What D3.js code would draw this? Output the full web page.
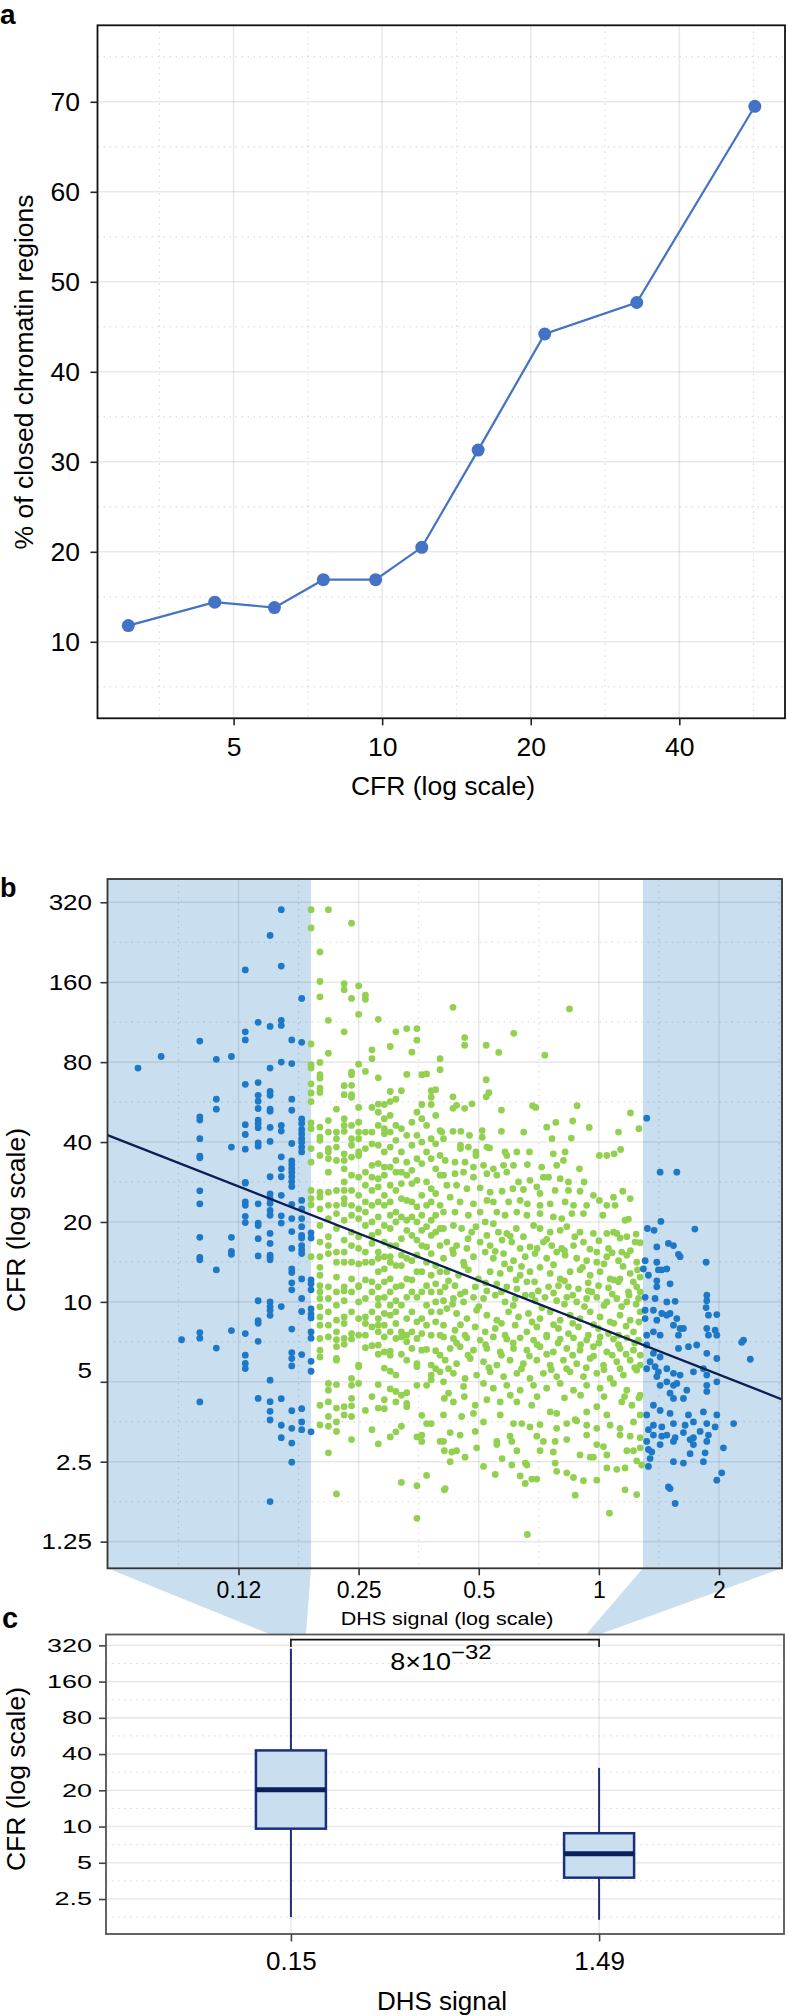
<!DOCTYPE html>
<html><head><meta charset="utf-8">
<script src="https://cdn.jsdelivr.net/npm/d3@7"></script>
<style>
body{margin:0;background:#fff}
svg{display:block}
</style>
</head><body>
<svg id="chart" width="788" height="2016"></svg>
<script>
// ================= DATA =================
// Panel a
const cfrBins   = [3.06, 4.58, 6.05, 7.6, 9.7, 12.03, 15.65, 21.35, 32.8, 56.9];
const pctClosed = [11.8, 14.4, 13.8, 16.9, 16.9, 20.5, 31.3, 44.2, 47.7, 69.5];
const aXTicks = [5, 10, 20, 40];
const aYTicks = [10, 20, 30, 40, 50, 60, 70];

// Panel b
const bXTicks = [0.125, 0.25, 0.5, 1, 2];
const bXTickLabels = ["0.12", "0.25", "0.5", "1", "2"];
const bYTicks = [1.25, 2.5, 5, 10, 20, 40, 80, 160, 320];
const bYTickLabels = ["1.25", "2.5", "5", "10", "20", "40", "80", "160", "320"];
const lowCutoff = 0.19, highCutoff = 1.29;
const fitCFRat1 = 8.0, fitSlope = -0.589;

// low-DHS group (blue), by DHS column
const lowColumns = [
 [0.07,[76]],
 [0.08,[84]],
 [0.09,[7.2]],
 [0.10,[96,49.8,48.4,41.2,35.4,34.9,26.2,23.4,17.5,14.7,14.4,7.66,7.3,4.2]],
 [0.11,[82,58,53.2,13.2,6.7]],
 [0.12,[84,38.3,17.5,15.5,15.1,7.8]],
 [0.13,[178,104,97,66,46.5,42.7,37.6,28.2,28,23.8,23.1,21,19.9,7.6,6.3,5.86,5.61]],
 [0.14,[113,67,60,57,53.5,48.4,47,45.3,39.7,38.6,23.4,19.8,19.4,17.3,14.9,10.1,8.5,8.3,7.1,4.33]],
 [0.15,[240,109,76,62,60,53.2,52.3,45.4,40.2,29.6,25.5,24.5,23.5,22.1,21.2,18.1,16.6,15,14.7,14.4,10,9.6,9.3,8.9,5.07,4.21,3.87,3.59,1.77]],
 [0.16,[300,184,115,110,80,46.2,44,35.2,31.7,29.6,25.2,21.1,19.8,9.6,4.32,3.43,3.08]],
 [0.17,[97,79,58,52.7,39.5,34,32.9,31.8,30.8,29.6,28.4,27.2,23.3,20.6,18.4,15.9,13.3,12.9,11.8,11.1,7.9,6.44,6.12,5.74,3.89,3.34,2.94,2.49]],
 [0.18,[139,95,48.9,47,44.6,42.9,41.2,40,38.3,36.7,24.1,22.4,20.6,19.2,17.8,17.4,16.3,15.7,15.2,12.2,10.3,9.2,6.33,3.96,3.53,3.3]],
 [0.19,[18.2,17.4,12.1,11.7,11.1,9.4,9.0,8.7,7.7,7.3,5.97,5.48,3.24]]
];

// middle group (green), low-DHS part by column
const midColumns = [
 [0.19,[300,256,93.6,78.2,76,66.3,61.2,56.8,47.2,44.9,37.8,33.6,26.3,24.5,23.2,14.8]],
 [0.20,[208,161,141,79.8,71.7,69.6,63.8,61.5,45.5,41.7,40.6,35.6,25.9,24.8,22.4,19.4,16.8,14.8,13.5,12.6,11.5,10.9,10.3,9.58,8.78,8.17,7.28,6.58,6.2,4.08,3.44]],
 [0.21,[300,115,86.4,48.2,43.6,37.8,36.7,34.6,30.8,25.9,23.1,20.6,17.6,16.3,15.2,11.4,10.3,9.17,8.17,7.38,4.93,4.65,4.2,3.7,3.4,2.7]],
 [0.22,[53.2,43.6,41.2,38.3,34.1,26.3,23.1,21.5,18.9,15.4,14.1,12.4,10.9,9.72,8.53,7.71,7.2,6.78,6.12,6.03,4.88,3.98,3.53,3.25,1.89]],
 [0.23,[158,150,104,65.2,60.3,49,46.2,43.9,36.1,34.1,31.7,28.3,26.3,24.5,23.4,20.3,17.1,15.4,14.1,11.4,11.0,10.1,8.78,8.29,7.28,6.92,4.03,3.75]],
 [0.24,[267,139,73.4,71.7,65.4,60.3,59,46.2,41.2,38.9,35.1,30,26.3,23.1,21.2,18.3,16.3,14.1,12.2,10.9,9.17,7.6,7.25,5.15,4.85,4.33,4.06,3.7,3.03]],
 [0.25,[155,121,78.6,54,47.5,43.6,41.2,36.7,35.6,29.5,25.2,22.4,20.6,17.6,15.9,13.9,11.5,11.4,10,8.65,7.49,5.78,5.7,4.93]],
 [0.26,[143,138,73.8,43.6,37.8,30.8,27.5,23.8,21.8,19.4,15.4,14.1,12.1,10.3,8.78,8.29,7.49,6.72,3.9]],
 [0.27,[89,82.4,54,43.6,39.4,32.7,29.5,26.3,23.1,20,17.8,16.6,14.1,11.9,10.9,9.17,8.05,6.84,4.4,3.3]],
 [0.28,[116,69.8,55.6,51.8,46.2,38.9,33.2,29.1,27.1,23.8,20.9,18.3,15.4,14.6,13,11.4,10.3,9.72,8.65,8.17,7.71,6.87,6.35,4.88,3.98,2.92]],
 [0.29,[55.4,49,44.9,43,36.7,32.2,30,25.2,23.1,19.4,16.8,14.8,13.3,11.9,10.4,9.04,8.17,7.38,6.48,5.63,4.28,3.96]],
 [0.30,[91.6,62,56.8,50.4,43.6,38.3,32.2,27.5,23.8,21.2,18.9,16.3,14.8,14.1,12.2,10.9,9.72,8.91,7.71,6.52,6.3,5.48,4.7,3.1]],
 [0.31,[104,58,46.2,40.6,34.1,30.8,26.3,21.8,20,16.3,13.7,11.4,10.1,9.17,8.29,7.28,5.3,4.6,4.2,3.24]],
 [0.32,[62.4,44.9,36.7,30.8,27.9,24.5,20.9,17.3,15,13.7,11.5,9.72,7.71,7.38,6.35,4.45,3.4,2.09]],
 [0.33,[107,71.9,42.4,33.6,30,24.1,20.3,18.6,14.6,12.2,10.4,8.65,7.49,7.08,6.03,4.55,4.15,4.03]],
 [0.34,[87.2,47.5,38.9,31.3,27.9,23.8,20.9,17.8,14.3,12.1,10.9,9.17,7.71,6.68]],
 [0.35,[107,96.8,51.8,42.4,34.6,28.7,22.8,20,17.1,15,13,10.4,8.41,7.28,5.85,5.7,4.85,3.1,2.03,1.53]],
 [0.36,[71.7,55.4,49,40,33.2,25.2,21.2,18.6,16.3,13,10.9,8.65,7.6,6.58,3.74,3.15,2.98]],
 [0.37,[72.2,46.2,36.7,28.3,23.1,19.2,16.1,14.1,11.5,9.72,8.17,6.62,4.85,3.48,2.22]],
 [0.38,[62.4,59,55.4,41.2,34.6,26.7,23.8,20.3,17.8,15.2,12.6,10.9,9.17,7.49,5.78,5.3,5.08,3.48]],
 [0.39,[63,50.4,39.4,31.7,25.6,21.2,18.3,13.7,11.7,10,8.41,6.55,5.6]],
 [0.40,[82.4,74.9,44.2,35.6,30,23.1,18.9,16.3,13,10.9,9.17,7.49,6.3,5.45,2.98]],
 [0.41,[4.33,2.75,1.96]]
];

// middle group (green), DHS > 0.41 as [DHS, CFR]
const midPoints = [
 [0.431,128.7],[0.844,126.9],[0.612,102.7],[0.461,99],[0.461,92.6],[0.522,92.6],[0.561,87],[0.732,85],
 [0.522,68.7],[0.53,61.4],[0.522,59.2],[0.431,59.2],[0.44,55],[0.431,53.6],[0.481,55.7],[0.461,53.6],
 [0.682,54.8],[0.695,54],[0.882,54.8],[0.57,52.8],
 [1.2,51.5],[0.404,43.6],[0.431,43.9],[0.451,43.9],[0.474,42.4],[0.51,44.2],[0.51,41.7],[0.57,43.9],
 [0.648,43.6],[0.74,45.5],[0.78,47.4],[0.853,41.4],[0.86,48],[0.946,45.4],[0.763,41.2],[1.12,43.6],[1.26,44.9],[0.408,41.2],
 [0.45,38.9],[0.45,37.8],[0.471,38.3],[0.492,36.7],[0.492,35.6],[0.524,38.3],[0.532,38.0],[0.582,36.7],[0.588,35.6],
 [0.623,36.7],[0.67,36.7],[0.769,36.1],[0.823,36.7],[1.003,35.6],[1.047,35.6],[1.092,36.1],[1.134,37.5],
 [0.412,34.1],[0.436,33.6],[0.462,33.6],[0.485,32.2],[0.514,32.7],[0.544,31.7],[0.577,32.7],[0.611,32.7],
 [0.662,32.9],[0.719,32.2],[0.784,32.7],[0.815,34.1],[0.894,31.7],
 [0.408,30],[0.436,30.4],[0.458,30.8],[0.485,29.5],[0.524,30.4],[0.555,30],[0.588,30.8],[0.629,28.3],
 [0.672,28.7],[0.726,29.5],[0.748,29.5],[0.80,29.1],[0.839,28.3],[0.918,28.3],
 [0.416,27.5],[0.44,27.5],[0.467,26.7],[0.504,26.9],[0.534,25.9],[0.572,26.1],[0.609,26.7],[0.647,26.5],
 [0.699,27.1],[0.712,25.6],[0.777,26.3],[0.839,26.3],[0.897,26.1],[0.969,25.2],[1.088,24.8],[1.148,26.1],[1.198,24.5],
 [0.424,24.8],[0.449,23.8],[0.485,23.4],[0.524,24.1],[0.544,23.8],[0.594,23.8],[0.635,24.1],[0.662,23.4],
 [0.712,23.1],[0.755,23.4],[0.823,23.8],[0.864,23.1],[0.932,23.1],[1.003,24.1],[1.047,23.1],[1.098,23.1],
 [0.408,21.8],[0.436,21.8],[0.471,21.2],[0.504,21.8],[0.519,20],[0.555,21.8],[0.582,21.2],[0.623,21.8],
 [0.66,21.2],[0.712,21.5],[0.769,20.9],[0.807,20.6],[0.856,21.5],[0.915,21.5],[1.023,21.2],[1.088,18.3],[1.163,20.3],[1.186,20.5],
 [0.408,18.9],[0.432,19.4],[0.453,18.9],[0.48,18.3],[0.492,19.2],[0.524,17.8],[0.544,19.7],[0.56,18.3],
 [0.588,18.1],[0.621,18.9],[0.647,17.6],[0.686,19.4],[0.712,18.9],[0.755,18.3],[0.80,18.6],[0.831,19.2],
 [0.897,18.3],[0.969,18.1],[1.047,18.1],[1.109,18.1],[1.175,17.6],[1.269,16.7],
 [0.416,16.8],[0.44,16.3],[0.467,15.9],[0.504,16.8],[0.534,16.3],[0.572,17.1],[0.605,16.8],[0.635,15.9],
 [0.672,16.1],[0.726,16.8],[0.762,16.3],[0.807,15.9],[0.864,16.3],[0.915,16.8],[0.988,15.4],[1.057,15.9],[1.141,15.4],[1.232,16.8],
 [0.408,14.6],[0.432,15.2],[0.458,14.1],[0.485,14.8],[0.519,15.4],[0.544,14.6],[0.577,15.2],[0.611,14.3],
 [0.654,14.8],[0.692,15.2],[0.74,14.6],[0.784,15.4],[0.823,15],[0.88,14.6],[0.932,14.3],[0.988,14.1],
 [1.047,14.8],[1.12,14.3],[1.175,15],[1.244,14.1],
 [0.416,13],[0.445,12.6],[0.471,13.2],[0.499,12.2],[0.534,13],[0.566,12.8],[0.599,13.3],[0.635,12.6],
 [0.672,13],[0.712,13.5],[0.755,12.8],[0.80,12.2],[0.847,13],[0.897,13.2],[0.951,12.6],[1.007,13],
 [1.067,12.2],[1.13,12.2],[1.198,12.8],[1.269,12.4],
 [0.412,11.4],[0.436,11.5],[0.462,10.9],[0.49,11.4],[0.524,11],[0.555,11.7],[0.588,11.4],[0.623,11.2],
 [0.66,11.9],[0.705,11],[0.748,11.4],[0.792,11.5],[0.839,11.4],[0.889,11.2],[0.941,11],[0.998,11.5],
 [1.057,11.3],[1.12,11.9],[1.186,10.9],[1.244,11.4],
 [0.408,10.1],[0.432,10.3],[0.458,10],[0.485,10.4],[0.514,10.3],[0.55,10.6],[0.582,10],[0.617,10.3],
 [0.654,10.6],[0.692,10.1],[0.733,10.4],[0.784,10.1],[0.831,10.4],[0.88,10],[0.932,10.3],[0.988,10.4],
 [1.047,10],[1.109,10.3],[1.175,10],[1.257,10.3],
 [0.416,9.44],[0.44,9.04],[0.467,8.65],[0.494,9.3],[0.524,8.91],[0.555,8.53],[0.594,9.17],[0.629,8.78],
 [0.666,9.04],[0.712,8.65],[0.755,9.17],[0.80,8.53],[0.847,8.91],[0.897,8.65],[0.951,9.17],[1.007,8.78],
 [1.067,8.41],[1.13,8.91],[1.198,8.53],[1.269,9.17],
 [0.408,8.17],[0.436,7.82],[0.462,7.49],[0.49,8.05],[0.519,7.71],[0.55,7.94],[0.582,7.49],[0.617,8.17],
 [0.66,7.71],[0.699,8.05],[0.74,7.49],[0.792,7.94],[0.839,7.6],[0.889,8.05],[0.941,7.49],[0.998,7.94],
 [1.057,7.6],[1.12,7.49],[1.221,7.71],
 [0.408,7.38],[0.432,7.28],[0.467,7.32],[0.504,7.18],[0.544,7.38],[0.588,7.24],[0.635,7.32],[0.686,7.18],
 [0.74,7.38],[0.80,7.24],[0.864,7.32],[0.932,7.18],[1.007,7.38],[1.088,7.24],[1.175,7.32],[1.257,7.18],
 [0.424,6.68],[0.449,6.78],[0.485,6.58],[0.524,6.68],[0.566,6.48],[0.611,6.68],[0.66,6.58],[0.712,6.78],
 [0.769,6.48],[0.831,6.68],[0.897,6.58],[0.969,6.78],[1.047,6.48],[1.13,6.68],[1.221,6.58],
 [0.412,6.03],[0.44,5.85],[0.476,6.12],[0.514,5.95],[0.555,5.78],[0.599,6.03],[0.647,5.85],[0.699,6.03],
 [0.755,5.78],[0.815,6.03],[0.88,5.85],[0.951,6.12],[1.027,5.78],[1.109,5.95],[1.198,6.03],[1.269,5.78],
 [0.432,5.38],[0.462,5.15],[0.494,5.3],[0.534,5.45],[0.577,5.23],[0.623,5.38],[0.672,5.15],[0.726,5.38],
 [0.784,5.23],[0.847,5.45],[0.915,5.23],[0.988,5.38],[1.067,5.15],[1.152,5.3],[1.244,5.53],
 [0.408,5.0],[0.458,4.8],[0.514,4.93],[0.544,4.73],[0.588,4.85],[0.635,4.65],[0.686,4.85],[0.74,4.73],
 [0.80,4.93],[0.864,4.65],[0.932,4.85],[1.007,4.73],[1.088,4.93],[1.175,4.65],[1.269,4.45],
 [0.42,4.53],[0.432,4.2],[0.49,4.08],[0.524,4.28],[0.566,4.2],[0.623,4.2],[0.679,4.08],[0.755,3.85],
 [0.784,3.8],[0.872,3.6],[0.932,3.85],[0.988,4.03],[1.047,3.75],[1.141,4.2],[1.21,4.08],[1.269,3.75],
 [0.408,3.75],[0.453,3.7],[0.485,3.8],[0.514,3.53],[0.566,3.75],[0.611,3.48],[0.641,3.48],[0.672,3.38],
 [0.712,3.45],[0.784,3.34],[0.831,3.48],[0.88,3.56],[0.932,3.43],[0.988,3.34],[1.067,3.43],[1.13,3.34],[1.221,3.53],
 [0.424,3.22],[0.449,3.15],[0.49,3.25],[0.555,2.98],[0.599,3.12],[0.605,2.98],[0.699,3.12],[0.726,2.98],
 [0.777,2.98],[0.831,3.03],[0.932,3.15],[0.988,2.9],[1.027,2.85],[1.13,3.15],[1.198,3.12],[1.269,3.08],
 [0.408,2.98],[0.428,2.72],[0.44,2.75],[0.494,2.82],[0.555,2.9],[0.623,2.75],[0.66,2.43],[0.712,2.75],
 [0.769,2.72],[0.897,2.65],[0.969,2.6],[1.047,2.65],[1.175,2.75],[1.221,2.75],[1.269,2.82],
 [0.424,2.5],[0.462,2.6],[0.514,2.4],[0.55,2.24],[0.572,2.57],[0.605,2.43],[0.654,2.47],[0.679,2.15],
 [0.699,2.15],[0.777,2.47],[0.784,2.3],[0.831,2.27],[0.864,2.18],[0.915,2.12],[0.951,2.6],[0.988,2.13],
 [1.047,2.37],[1.109,2.34],[1.163,2.37],[1.244,2.52],[1.28,2.43],
 [0.412,1.98],[0.635,2.21],[0.654,2.07],[0.872,1.87],[1.063,1.6],[1.163,1.96],[1.244,1.88],[0.662,1.33]
];

// middle group (green), densest core, further points between the rows above
const midCorePoints = [
 [0.47,17.3],[0.6,17.7],[0.74,17.2],[0.87,17.6],[1.0,17.0],[1.13,17.4],[1.24,18.0],
 [0.43,15.7],[0.55,15.5],[0.7,15.9],[0.82,15.6],[0.95,15.8],[1.08,15.3],[1.2,15.6],
 [0.46,13.7],[0.58,13.9],[0.64,13.6],[0.77,13.8],[0.91,13.5],[1.03,13.9],[1.15,13.6],[1.25,13.2],
 [0.42,12.0],[0.52,11.8],[0.62,12.1],[0.69,11.9],[0.82,12.0],[0.94,11.8],[1.09,12.1],[1.22,11.9],
 [0.45,10.7],[0.57,10.9],[0.68,10.6],[0.77,10.8],[0.86,10.6],[0.96,10.9],[1.08,10.7],[1.19,10.6],[1.27,10.9],
 [0.43,9.8],[0.5,9.6],[0.61,9.7],[0.72,9.5],[0.82,9.8],[0.92,9.6],[1.03,9.7],[1.14,9.6],[1.24,9.8],
 [0.45,8.2],[0.57,8.3],[0.68,8.4],[0.77,8.2],[0.86,8.3],[0.97,8.2],[1.09,8.3],[1.17,8.1],[1.26,8.4],
 [0.44,7.0],[0.52,6.9],[0.61,7.0],[0.7,6.9],[0.79,7.0],[0.9,6.9],[1.0,7.0],[1.12,6.9],[1.23,7.0],
 [0.47,6.3],[0.57,6.3],[0.67,6.25],[0.74,6.35],[0.86,6.3],[0.97,6.25],[1.08,6.3],[1.17,6.35],[1.27,6.3],
 [0.42,5.6],[0.53,5.65],[0.64,5.6],[0.76,5.55],[0.83,5.6],[0.93,5.65],[1.03,5.55],[1.13,5.6],[1.23,5.65],
 [0.46,4.4],[0.6,4.45],[0.7,4.4],[0.82,4.35],[0.9,4.45],[1.03,4.4],[1.16,4.4],[1.26,4.35]
];

// high-DHS group (blue) as [DHS, CFR]
const highPoints = [
 [1.318,49.2],[1.424,30.8],[1.568,30.8],[1.43,20.1],[1.323,18.9],[1.375,18.6],[1.74,18.8],[1.397,16.1],
 [1.494,16.6],[1.538,16.3],[1.583,15.1],[1.598,14.8],[1.397,14.1],[1.306,14.3],[1.293,13.3],[1.331,12.6],
 [1.41,13.2],[1.438,13.2],[1.48,13.3],[1.508,11.7],[1.397,12.0],[1.397,11.4],[1.857,14.1],[1.306,10.4],
 [1.383,10.3],[1.48,10.0],[1.553,10.05],[1.864,10.6],[1.864,10.1],[1.857,9.52],[1.306,9.3],[1.37,9.3],
 [1.438,9.04],[1.48,8.91],[1.508,9.04],[1.568,8.65],[1.882,8.91],[1.975,8.96],[1.306,8.65],[1.397,8.53],
 [1.538,8.17],[1.598,7.94],[1.629,7.94],[1.864,7.94],[1.956,7.82],[1.37,7.71],[1.318,7.49],[1.424,7.49],
 [1.583,7.49],[1.882,7.49],[1.975,7.49],[2.304,7.17],
 [1.583,6.68],[1.677,6.78],[1.759,6.88],[1.864,6.4],[1.975,6.12],[2.28,7.04],[2.396,6.08],[1.318,6.88],
 [1.37,6.4],[1.424,6.2],[1.344,5.95],[1.318,5.6],[1.383,5.7],[1.41,5.45],[1.48,5.6],[1.538,5.38],
 [1.598,5.3],[1.726,5.45],[1.828,5.6],[1.864,5.3],[1.975,5.0],[1.397,5.23],[1.48,5.0],[1.538,4.85],
 [1.424,4.85],[1.568,4.93],[1.661,4.65],[1.864,4.85],[1.864,4.6],[1.508,4.53],[1.538,4.33],[1.629,4.33],
 [1.37,4.08],[1.424,3.9],[1.508,3.8],[1.677,3.75],[1.828,3.85],[1.975,3.75],[2.176,3.48],[1.318,3.75],
 [1.37,3.43],[1.331,3.3],[1.438,3.38],[1.538,3.48],[1.645,3.43],[1.726,3.53],[1.864,3.48],[1.956,3.38],
 [1.37,3.15],[1.318,2.98],[1.438,3.12],[1.48,3.15],[1.553,3.08],[1.629,3.22],[1.726,3.08],[1.794,3.25],
 [1.882,3.15],[2.052,2.82],[1.331,2.78],[1.357,2.72],[1.424,2.9],[1.538,2.98],[1.693,3.03],[1.726,2.9],
 [1.864,2.98],[1.344,2.57],[1.331,2.4],[1.538,2.5],[1.629,2.47],[1.693,2.68],[1.828,2.5],[1.846,2.7],
 [2.032,2.27],[1.975,2.13],[1.494,2.01],[1.508,1.98],[1.553,1.74]
];

// Panel c
const boxLabels = ["0.15", "1.49"];
const boxLow    = [1.77, 1.68];
const boxQ1     = [9.6, 3.76];
const boxMedian = [20.2, 5.95];
const boxQ3     = [42.9, 8.8];
const boxHigh   = [300, 30.7];
const cYTicks = [2.5, 5, 10, 20, 40, 80, 160, 320];
const pValueBase = "8×10", pValueExp = "−32";

// ================= DRAWING =================
const FONT = '"Liberation Sans", Arial, Helvetica, sans-serif';
const SHADE = "#c9dff0", BLUE = "#1e78c8", GREEN = "#92d050";
const svg = d3.select("#chart");

function addText(parent, x, y, txt, o = {}) {
  return parent.append("text")
    .attr("transform", `translate(${x},${y})` + (o.rot ? ` rotate(${o.rot})` : "") + ` scale(${o.sx || 1},${o.sy || 1})`)
    .attr("text-anchor", o.anchor || "middle")
    .attr("font-family", FONT)
    .attr("font-size", o.size || 26)
    .attr("font-weight", o.weight || "normal")
    .attr("fill", "#000")
    .text(txt);
}
function styleAxis(g, size, sy, col) {
  g.select(".domain").remove();
  g.attr("font-family", FONT).attr("font-size", size);
  g.selectAll(".tick line").attr("stroke", col || "#222").attr("stroke-width", 1.6);
  g.selectAll(".tick text").attr("fill", "#000");
  if (sy) g.selectAll(".tick text").attr("transform", `scale(1,${sy})`);
}
function hLines(g, vals, scale, x1, x2, major) {
  g.append("g").selectAll("line").data(vals).join("line")
    .attr("x1", x1).attr("x2", x2).attr("y1", d => scale(d)).attr("y2", d => scale(d))
    .attr("stroke", major ? "rgba(0,0,0,0.085)" : "rgba(0,0,0,0.16)")
    .attr("stroke-width", major ? 1.6 : 1)
    .attr("stroke-dasharray", major ? null : "1.5,4.5");
}
function vLines(g, vals, scale, y1, y2, major) {
  g.append("g").selectAll("line").data(vals).join("line")
    .attr("y1", y1).attr("y2", y2).attr("x1", d => scale(d)).attr("x2", d => scale(d))
    .attr("stroke", major ? "rgba(0,0,0,0.085)" : "rgba(0,0,0,0.16)")
    .attr("stroke-width", major ? 1.6 : 1)
    .attr("stroke-dasharray", major ? null : "1.5,4.5");
}

// ---------- Panel a ----------
const A = {l: 97.5, r: 785, t: 25.3, b: 718.3};
const ax = d3.scaleLog().base(2).domain([2.65, 65.5]).range([A.l, A.r]);
const ay = d3.scaleLinear().domain([1.5, 78.5]).range([A.b, A.t]);
const ga = svg.append("g");
const aYMinor = aYTicks.map(v => v - 5).concat([aYTicks[aYTicks.length - 1] + 5]);
const aXMinor = [2.5].concat(aXTicks).map(v => v * Math.SQRT2).filter(v => v < ax.domain()[1]);
hLines(ga, aYMinor, ay, A.l, A.r, false);
vLines(ga, aXMinor, ax, A.t, A.b, false);
hLines(ga, aYTicks, ay, A.l, A.r, true);
vLines(ga, aXTicks, ax, A.t, A.b, true);
const aData = d3.zip(cfrBins, pctClosed);
ga.append("path").datum(aData)
  .attr("d", d3.line().x(d => ax(d[0])).y(d => ay(d[1])))
  .attr("fill", "none").attr("stroke", "#4472c4").attr("stroke-width", 2.2);
ga.selectAll("circle").data(aData).join("circle")
  .attr("cx", d => ax(d[0])).attr("cy", d => ay(d[1])).attr("r", 6.5).attr("fill", "#4472c4");
ga.append("rect").attr("x", A.l).attr("y", A.t).attr("width", A.r - A.l).attr("height", A.b - A.t)
  .attr("fill", "none").attr("stroke", "#111").attr("stroke-width", 1.8);
ga.append("g").attr("transform", `translate(${A.l},0)`)
  .call(d3.axisLeft(ay).tickValues(aYTicks).tickSize(7).tickPadding(10.5).tickFormat(d3.format("d")))
  .call(g => styleAxis(g, 26.5));
ga.append("g").attr("transform", `translate(0,${A.b})`)
  .call(d3.axisBottom(ax).tickValues(aXTicks).tickSize(7).tickPadding(11.5).tickFormat(d3.format("d")))
  .call(g => styleAxis(g, 26.5));
addText(ga, 33, 372, "% of closed chromatin regions", {rot: -90, size: 26.5});
addText(ga, 443, 795, "CFR (log scale)", {size: 26.5});
addText(ga, 0, 24, "a", {anchor: "start", size: 28, weight: "bold"});

// ---------- Panel b ----------
const B = {l: 107.5, r: 782, t: 879, b: 1568.3};
const bx = d3.scaleLog().base(2).domain([0.0587, 2.877]).range([B.l, B.r]);
const by = d3.scaleLog().base(2).domain([0.992, 391.6]).range([B.b, B.t]);

// Panel c scales (needed for connectors)
const C = {l: 106, r: 784, t: 1634.5, b: 1934};
const cx = d3.scalePoint().domain(boxLabels).range([C.l, C.r]).padding(0.6);
const cy = d3.scaleLog().base(2).domain([1.28, 394]).range([C.b, C.t]);

// connectors from shaded bands to boxes
const conn = svg.append("g");
const c0 = cx(boxLabels[0]), c1 = cx(boxLabels[1]);
conn.append("polygon").attr("fill", SHADE)
  .attr("points", [[bx.range()[0], B.b], [bx(lowCutoff), B.b], [c0 + 15, C.t], [c0 - 20, C.t]].join(" "));
conn.append("polygon").attr("fill", SHADE)
  .attr("points", [[bx(highCutoff), B.b], [bx.range()[1], B.b], [c1, C.t], [c1 - 13, C.t]].join(" "));

const gb = svg.append("g");
gb.append("rect").attr("x", B.l).attr("y", B.t).attr("width", bx(lowCutoff) - B.l).attr("height", B.b - B.t).attr("fill", SHADE);
gb.append("rect").attr("x", bx(highCutoff)).attr("y", B.t).attr("width", B.r - bx(highCutoff)).attr("height", B.b - B.t).attr("fill", SHADE);
const bYMinor = bYTicks.map(v => v * Math.SQRT2).filter(v => v < by.domain()[1]);
const bXMinor = [0.0625].concat(bXTicks).map(v => v * Math.SQRT2).filter(v => v > bx.domain()[0] && v < bx.domain()[1]);
hLines(gb, bYMinor, by, B.l, B.r, false);
vLines(gb, bXMinor, bx, B.t, B.b, false);
hLines(gb, bYTicks, by, B.l, B.r, true);
vLines(gb, bXTicks, bx, B.t, B.b, true);

svg.append("defs").append("clipPath").attr("id", "clipB")
  .append("rect").attr("x", B.l).attr("y", B.t).attr("width", B.r - B.l).attr("height", B.b - B.t);
const pts = gb.append("g").attr("clip-path", "url(#clipB)");
const flat = cols => cols.flatMap(([d, arr]) => arr.map(c => [d, c]));
const greens = flat(midColumns).concat(midPoints, midCorePoints);
const blues = flat(lowColumns).concat(highPoints);
const R = 3.4;
pts.append("g").selectAll("circle").data(greens).join("circle")
  .attr("cx", d => bx(d[0])).attr("cy", d => by(d[1])).attr("r", R).attr("fill", GREEN);
pts.append("g").selectAll("circle").data(blues).join("circle")
  .attr("cx", d => bx(d[0])).attr("cy", d => by(d[1])).attr("r", R).attr("fill", BLUE);
const fitX = bx.domain();
pts.append("path").datum(fitX.map(x => [x, fitCFRat1 * Math.pow(x, fitSlope)]))
  .attr("d", d3.line().x(d => bx(d[0])).y(d => by(d[1])))
  .attr("stroke", "#0d1f52").attr("stroke-width", 2.3).attr("fill", "none");
gb.append("rect").attr("x", B.l).attr("y", B.t).attr("width", B.r - B.l).attr("height", B.b - B.t)
  .attr("fill", "none").attr("stroke", "#333").attr("stroke-width", 1.8);
const byAxis = gb.append("g").attr("transform", `translate(${B.l},0)`)
  .call(d3.axisLeft(by).tickValues(bYTicks).tickSize(7).tickPadding(8.5).tickFormat((d, i) => bYTickLabels[i]))
  .call(g => styleAxis(g, 26, 0.88, "#333"));
byAxis.selectAll(".tick text").filter(d => d === 5).attr("transform", "translate(0,-12) scale(1,0.88)");
gb.append("g").attr("transform", `translate(0,${B.b})`)
  .call(d3.axisBottom(bx).tickValues(bXTicks).tickSize(7).tickPadding(6).tickFormat((d, i) => bXTickLabels[i]))
  .call(g => styleAxis(g, 23, null, "#333"));
addText(gb, 24.5, 1220, "CFR (log scale)", {rot: -90, size: 26.5});
addText(gb, 447, 1625, "DHS signal (log scale)", {size: 21.5, sy: 0.88});
addText(gb, 0, 897, "b", {anchor: "start", size: 27, weight: "bold"});

// ---------- Panel c ----------
const gc = svg.append("g");
gc.append("rect").attr("x", C.l).attr("y", C.t).attr("width", C.r - C.l).attr("height", C.b - C.t).attr("fill", "#fff");
const cYMinor = [1.25].concat(cYTicks).map(v => v * Math.SQRT2).filter(v => v > cy.domain()[0] && v < cy.domain()[1]);
hLines(gc, cYMinor, cy, C.l, C.r, false);
hLines(gc, cYTicks, cy, C.l, C.r, true);
vLines(gc, boxLabels, cx, C.t, C.b, true);
const boxes = boxLabels.map((k, i) => ({k, lo: boxLow[i], q1: boxQ1[i], med: boxMedian[i], q3: boxQ3[i], hi: boxHigh[i]}));
const BW = 35, NAVY = "#1c2f7e";
const bg = gc.selectAll(".box").data(boxes).join("g");
bg.append("line").attr("x1", d => cx(d.k)).attr("x2", d => cx(d.k)).attr("y1", d => cy(d.hi)).attr("y2", d => cy(d.q3))
  .attr("stroke", NAVY).attr("stroke-width", 2);
bg.append("line").attr("x1", d => cx(d.k)).attr("x2", d => cx(d.k)).attr("y1", d => cy(d.q1)).attr("y2", d => cy(d.lo))
  .attr("stroke", NAVY).attr("stroke-width", 2);
bg.append("rect").attr("x", d => cx(d.k) - BW).attr("width", 2 * BW)
  .attr("y", d => cy(d.q3)).attr("height", d => cy(d.q1) - cy(d.q3))
  .attr("fill", SHADE).attr("stroke", NAVY).attr("stroke-width", 2.5);
bg.append("line").attr("x1", d => cx(d.k) - BW).attr("x2", d => cx(d.k) + BW).attr("y1", d => cy(d.med)).attr("y2", d => cy(d.med))
  .attr("stroke", "#0a1f5c").attr("stroke-width", 5);
// significance bracket
const brY = cy(357), brEnd = cy(310);
gc.append("path").attr("d", `M${c0},${brEnd}V${brY}H${c1}V${brEnd}`)
  .attr("fill", "none").attr("stroke", "#111").attr("stroke-width", 1.6);
const midX = (c0 + c1) / 2;
addText(gc, midX + 6, 1670, pValueBase, {anchor: "end", size: 27, sy: 0.86});
addText(gc, midX + 6, 1659, pValueExp, {anchor: "start", size: 24, sy: 0.82});
gc.append("rect").attr("x", C.l).attr("y", C.t).attr("width", C.r - C.l).attr("height", C.b - C.t)
  .attr("fill", "none").attr("stroke", "#555").attr("stroke-width", 1.8);
gc.append("g").attr("transform", `translate(${C.l},0)`)
  .call(d3.axisLeft(cy).tickValues(cYTicks).tickSize(7).tickPadding(7).tickFormat(d3.format("")))
  .call(g => styleAxis(g, 27, 0.68, "#444"));
gc.append("g").attr("transform", `translate(0,${C.b})`)
  .call(d3.axisBottom(cx).tickSize(7.5).tickPadding(10.5))
  .call(g => styleAxis(g, 26, null, "#444"));
addText(gc, 25, 1779, "CFR (log scale)", {rot: -90, size: 26.5});
addText(gc, 442, 2010, "DHS signal", {size: 26});
addText(gc, 2, 1628, "c", {anchor: "start", size: 29, weight: "bold"});
</script>
</body></html>
